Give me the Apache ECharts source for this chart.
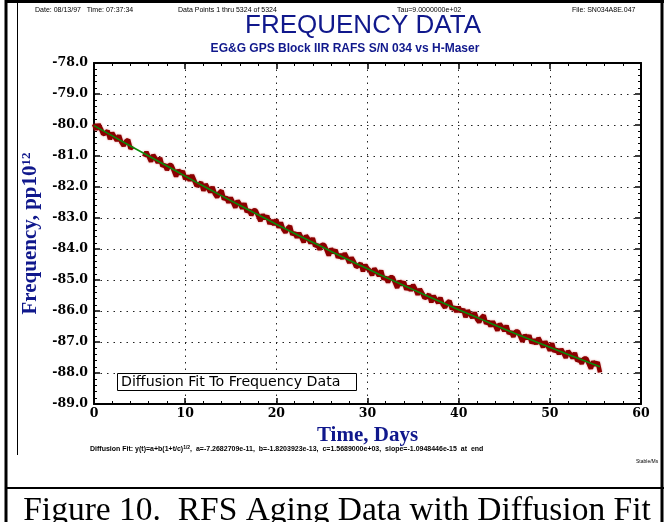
<!DOCTYPE html>
<html><head><meta charset="utf-8">
<script src="https://cdn.jsdelivr.net/npm/echarts@6/dist/echarts.min.js"></script>
<style>html,body{margin:0;padding:0;background:#fff}#c{width:664px;height:522px}</style>
</head><body><div id="c"></div>
<script>
// ---- data ----
var dataDays = [
 0,0.25,0.5,0.75,1,1.25,1.5,1.75,2,2.25,2.5,2.75,3,3.25,3.5,3.75,4,4.25,4.5,4.75,
 5,5.25,5.5,5.75,6,6.25,6.5,6.75,7,7.25,7.5,7.75,8,8.25,8.5,8.75,9,9.25,9.5,9.75,
 10,10.25,10.5,10.75,11,11.25,11.5,11.75,12,12.25,12.5,12.75,13,13.25,13.5,13.75,14,14.25,14.5,14.75,
 15,15.25,15.5,15.75,16,16.25,16.5,16.75,17,17.25,17.5,17.75,18,18.25,18.5,18.75,19,19.25,19.5,19.75,
 20,20.25,20.5,20.75,21,21.25,21.5,21.75,22,22.25,22.5,22.75,23,23.25,23.5,23.75,24,24.25,24.5,24.75,
 25,25.25,25.5,25.75,26,26.25,26.5,26.75,27,27.25,27.5,27.75,28,28.25,28.5,28.75,29,29.25,29.5,29.75,
 30,30.25,30.5,30.75,31,31.25,31.5,31.75,32,32.25,32.5,32.75,33,33.25,33.5,33.75,34,34.25,34.5,34.75,
 35,35.25,35.5,35.75,36,36.25,36.5,36.75,37,37.25,37.5,37.75,38,38.25,38.5,38.75,39,39.25,39.5,39.75,
 40,40.25,40.5,40.75,41,41.25,41.5,41.75,42,42.25,42.5,42.75,43,43.25,43.5,43.75,44,44.25,44.5,44.75,
 45,45.25,45.5,45.75,46,46.25,46.5,46.75,47,47.25,47.5,47.75,48,48.25,48.5,48.75,49,49.25,49.5,49.75,
 50,50.25,50.5,50.75,51,51.25,51.5,51.75,52,52.25,52.5,52.75,53,53.25,53.5,53.75,54,54.25,54.5,54.75,
 55,55.25,55.5];
var dataFreq = [
 -79.97,-80.15,-79.98,-80.12,-80.29,-80.27,-80.19,-80.46,-80.25,-80.38,-80.50,-80.34,-80.56,-80.67,-80.53,-80.48,-80.76,-80.69,null,null,
 null,null,-81.02,-80.87,-81.02,-81.18,-80.97,-81.08,-81.22,-81.06,-81.33,-81.28,-81.45,-81.29,-81.30,-81.47,-81.66,-81.45,-81.58,-81.49,
 -81.75,-81.64,-81.79,-81.62,-81.79,-81.96,-81.93,-81.85,-82.12,-81.91,-82.04,-82.16,-82.00,-82.22,-82.33,-82.19,-82.12,-82.40,-82.33,-82.50,
 -82.35,-82.50,-82.66,-82.44,-82.55,-82.69,-82.53,-82.80,-82.74,-82.91,-82.75,-82.76,-82.93,-83.10,-82.89,-83.02,-82.93,-83.19,-83.07,-83.22,
 -83.05,-83.31,-83.14,-83.36,-83.47,-83.33,-83.26,-83.54,-83.47,-83.63,-83.48,-83.63,-83.78,-83.57,-83.67,-83.81,-83.65,-83.91,-83.86,-84.02,
 -83.86,-83.87,-84.03,-84.21,-83.99,-84.12,-84.03,-84.28,-84.17,-84.31,-84.14,-84.28,-84.45,-84.28,-84.41,-84.58,-84.54,-84.46,-84.72,-84.51,
 -84.63,-84.69,-84.85,-84.63,-84.74,-84.87,-84.70,-84.97,-84.91,-85.08,-84.91,-84.91,-85.08,-85.25,-85.03,-85.16,-85.06,-85.31,-85.19,-85.34,
 -85.16,-85.29,-85.47,-85.29,-85.42,-85.58,-85.55,-85.46,-85.72,-85.51,-85.63,-85.74,-85.57,-85.79,-85.89,-85.74,-85.67,-85.94,-85.87,-86.03,
 -85.87,-86.03,-85.94,-86.20,-85.98,-86.11,-86.22,-86.05,-86.26,-86.36,-86.21,-86.14,-86.41,-86.33,-86.49,-86.34,-86.48,-86.63,-86.41,-86.51,
 -86.64,-86.47,-86.73,-86.67,-86.83,-86.66,-86.66,-86.82,-86.99,-86.77,-86.89,-86.79,-87.04,-86.92,-87.06,-86.87,-87.00,-87.17,-86.99,-87.12,
 -87.28,-87.04,-87.31,-87.23,-87.39,-87.23,-87.36,-87.51,-87.29,-87.39,-87.52,-87.35,-87.61,-87.55,-87.70,-87.53,-87.53,-87.69,-87.86,-87.63,
 -87.75,-87.65,-87.98];
var fitDays = [0,2.5,5,7.5,10,12.5,15,17.5,20,22.5,25,27.5,30,32.5,35,37.5,40,42.5,45,47.5,50,52.5,55.5];
var fitFreq = [-80.02,-80.43,-80.84,-81.24,-81.65,-82.05,-82.44,-82.82,-83.20,-83.57,-83.93,-84.29,-84.64,-84.98,-85.31,-85.64,-85.96,-86.27,-86.58,-86.88,-87.17,-87.46,-87.80];
var xTicks = [0,10,20,30,40,50,60];
var yTicks = [-89,-88,-87,-86,-85,-84,-83,-82,-81,-80,-79,-78];

var chart = echarts.init(document.getElementById('c'), null, {renderer:'canvas'});
var blue = '#10188c';
var serif = '"Liberation Serif","DejaVu Serif",serif';
var wideSerif = '"DejaVu Serif","Liberation Serif",serif';
var sans = '"Liberation Sans",Arial,sans-serif';
var dataPairs = dataDays.map(function(d,i){ return [d, dataFreq[i]===null ? '-' : dataFreq[i]]; });
var fitPairs = fitDays.map(function(d,i){ return [d, fitFreq[i]]; });
var tickStyle = {show:true, inside:true, length:6, lineStyle:{color:'#000', width:1.5}};
var minorStyle = {show:true, splitNumber:5, length:3, lineStyle:{color:'#000', width:1}};
var gridDots = {show:true, lineStyle:{color:'#222', width:1, type:[1.5,5]}};

chart.setOption({
  animation:false,
  backgroundColor:'#fff',
  grid:{left:94, right:23, top:63, bottom:118, containLabel:false},
  title:[
    {text:'FREQUENCY DATA', left:358, top:8, textAlign:'center', textStyle:{fontFamily:sans, fontSize:26, fontWeight:'normal', color:blue}},
    {text:'EG&G GPS Block IIR RAFS S/N 034 vs H-Maser', left:340, top:38, textAlign:'center', textStyle:{fontFamily:sans, fontSize:12, fontWeight:'bold', color:blue}},
    {text:'Date: 08/13/97   Time: 07:37:34', left:30, top:2, textStyle:{fontFamily:sans, fontSize:7, fontWeight:'normal', color:'#000'}},
    {text:'Data Points 1 thru 5324 of 5324', left:173, top:2, textStyle:{fontFamily:sans, fontSize:7, fontWeight:'normal', color:'#000'}},
    {text:'Tau=9.0000000e+02', left:392, top:2, textStyle:{fontFamily:sans, fontSize:7, fontWeight:'normal', color:'#000'}},
    {text:'File: SN034A8E.047', left:567, top:2, textStyle:{fontFamily:sans, fontSize:7, fontWeight:'normal', color:'#000'}},
    {text:'{a|Diffusion Fit: y(t)=a+b(1+t/c)}{s|1/2}{a|,  a=-7.2682709e-11,  b=-1.8203923e-13,  c=1.5689000e+03,  slope=-1.0948446e-15  at  end}', left:85, top:440,
      textStyle:{rich:{a:{fontFamily:sans, fontSize:7, color:'#000'}, s:{fontFamily:sans, fontSize:5, color:'#000', verticalAlign:'top', padding:[0,0,3,0]}}}},
    {text:'Stable/Ms', left:631, top:454, textStyle:{fontFamily:sans, fontSize:5, fontWeight:'normal', color:'#000'}},
    {text:'Figure 10.  RFS Aging Data with Diffusion Fit', left:332, top:489, textAlign:'center', textStyle:{fontFamily:serif, fontSize:33.5, fontWeight:'normal', color:'#000'}}
  ],
  xAxis:[
    {type:'value', min:0, max:60, interval:10, position:'bottom',
     axisLine:{show:true, onZero:false, lineStyle:{color:'#000', width:2}},
     axisTick:tickStyle, minorTick:minorStyle, splitLine:gridDots,
     axisLabel:{color:'#000', fontFamily:wideSerif, fontWeight:'bold', fontSize:12.5, margin:3,
       formatter:function(v){ return xTicks.indexOf(v)>=0 ? String(v) : ''; }},
     name:'Time, Days', nameLocation:'middle', nameGap:18,
     nameTextStyle:{fontFamily:serif, fontWeight:'bold', fontSize:21, color:blue}},
    {type:'value', min:0, max:60, interval:10, position:'top',
     axisLine:{show:true, onZero:false, lineStyle:{color:'#000', width:2}},
     axisTick:tickStyle, minorTick:minorStyle, splitLine:{show:false}, axisLabel:{show:false}}
  ],
  yAxis:[
    {type:'value', min:-89, max:-78, interval:1, position:'left',
     axisLine:{show:true, onZero:false, lineStyle:{color:'#000', width:2}},
     axisTick:tickStyle, minorTick:minorStyle, splitLine:gridDots,
     axisLabel:{color:'#000', fontFamily:wideSerif, fontWeight:'bold', fontSize:12.5, margin:6,
       formatter:function(v){ return yTicks.indexOf(v)>=0 ? v.toFixed(1) : ''; }},
     name:'{a|Frequency, pp10}{s|12}', nameLocation:'middle', nameGap:49, nameRotate:90,
     nameTextStyle:{rich:{a:{fontFamily:serif, fontWeight:'bold', fontSize:21, color:blue},
                          s:{fontFamily:serif, fontWeight:'bold', fontSize:13, color:blue, verticalAlign:'top', padding:[0,0,9,0]}}}},
    {type:'value', min:-89, max:-78, interval:1, position:'right',
     axisLine:{show:true, onZero:false, lineStyle:{color:'#000', width:2}},
     axisTick:tickStyle, minorTick:minorStyle, splitLine:{show:false}, axisLabel:{show:false}}
  ],
  series:[
    {type:'line', name:'data', data:dataPairs, showSymbol:false, connectNulls:false,
     lineStyle:{color:'#8b0000', width:4.5, shadowColor:'rgba(200,70,70,0.6)', shadowBlur:2}, z:3},
    {type:'line', name:'fit', data:fitPairs, smooth:true, showSymbol:false,
     lineStyle:{color:'#0a8a0a', width:1.6}, z:4}
  ],
  graphic:[
    {type:'line', shape:{x1:6, y1:0, x2:6, y2:522}, style:{stroke:'#000', lineWidth:3}, silent:true},
    {type:'line', shape:{x1:662, y1:0, x2:662, y2:522}, style:{stroke:'#000', lineWidth:3}, silent:true},
    {type:'line', shape:{x1:5, y1:1.5, x2:664, y2:1.5}, style:{stroke:'#000', lineWidth:3}, silent:true},
    {type:'line', shape:{x1:17.5, y1:0, x2:17.5, y2:455}, style:{stroke:'#000', lineWidth:1}, silent:true},
    {type:'line', shape:{x1:5, y1:488, x2:664, y2:488}, style:{stroke:'#000', lineWidth:2}, silent:true},
    {type:'rect', shape:{x:117.5, y:373.5, width:239, height:17}, style:{fill:'#fff', stroke:'#000', lineWidth:1}, z:10, silent:true},
    {type:'text', x:121, y:375.5, z:11, silent:true,
     style:{text:'Diffusion Fit To Frequency Data', fontFamily:'"DejaVu Sans",sans-serif', fontSize:14.2, fill:'#000'}}
  ]
});
</script></body></html>
